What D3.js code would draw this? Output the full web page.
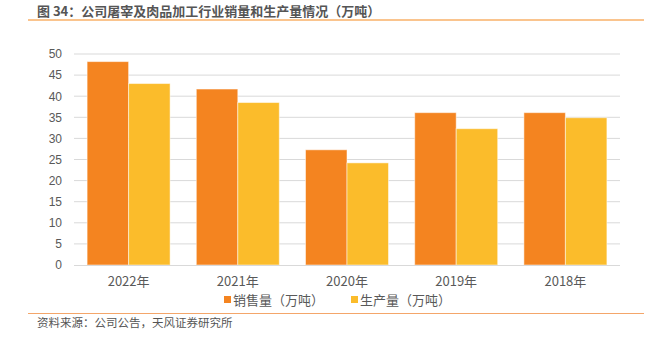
<!DOCTYPE html>
<html><head><meta charset="utf-8">
<script src="https://cdn.jsdelivr.net/npm/d3@7"></script>
<style>
body{margin:0;background:#fff;}
text{font-family:"Noto Sans CJK SC","Liberation Sans",Arial,sans-serif;}
</style></head>
<body><svg id="c" width="654" height="345"></svg>
<script>
const categories = ["2022年","2021年","2020年","2019年","2018年"];
const seriesNames = ["销售量（万吨）","生产量（万吨）"];
const sales = [48.2, 41.7, 27.3, 36.1, 36.1];
const production = [43.0, 38.5, 24.2, 32.3, 34.9];
const yTicks = [0,5,10,15,20,25,30,35,40,45,50];
const colors = ["#F48420","#FBBC2B"];

const svg = d3.select("#c");
const pL = 74, pR = 620, pT = 54, pB = 265;

// title
svg.append("text").attr("x",37).attr("y",16).attr("font-size",13).attr("font-weight","bold")
  .attr("fill","#555").text("图 34：公司屠宰及肉品加工行业销量和生产量情况（万吨）");
svg.append("line").attr("x1",28).attr("x2",644).attr("y1",20).attr("y2",20)
  .attr("stroke","#FAC48E").attr("stroke-width",2);

const x = d3.scaleBand().domain(categories).range([pL,pR]).paddingInner(0.24).paddingOuter(0.12);
const x1 = d3.scaleBand().domain([0,1]).range([0,x.bandwidth()]);
const y = d3.scaleLinear().domain([0,50]).range([pB,pT]);

// gridlines
svg.append("g").selectAll("line").data(yTicks.filter(d=>d>0)).join("line")
  .attr("x1",pL).attr("x2",pR).attr("y1",d=>y(d)).attr("y2",d=>y(d))
  .attr("stroke","#d9d9d9").attr("stroke-width",1);

// y axis
const ya = svg.append("g").attr("transform",`translate(${pL},0)`)
  .call(d3.axisLeft(y).tickValues(yTicks).tickSize(0).tickPadding(12));
ya.select(".domain").remove();
ya.selectAll("text").attr("font-size",12).attr("fill","#595959")
  .style("font-family","'Liberation Sans',Arial,sans-serif");

// bars
const data = categories.map((c,i)=>({c, v:[sales[i],production[i]]}));
const g = svg.append("g").selectAll("g").data(data).join("g")
  .attr("transform",d=>`translate(${x(d.c)},0)`);
g.selectAll("rect").data(d=>d.v.map((v,k)=>({v,k}))).join("rect")
  .attr("x",d=>x1(d.k)).attr("width",x1.bandwidth())
  .attr("y",d=>y(d.v)).attr("height",d=>y(0)-y(d.v))
  .attr("fill",d=>colors[d.k]).attr("stroke","#fff").attr("stroke-opacity",0.5).attr("stroke-width",1);

// x axis
svg.append("line").attr("x1",pL).attr("x2",pR).attr("y1",pB+0.5).attr("y2",pB+0.5)
  .attr("stroke","#d9d9d9").attr("stroke-width",1);
const xa = svg.append("g").attr("transform",`translate(0,${pB})`)
  .call(d3.axisBottom(x).tickSize(0).tickPadding(12));
xa.select(".domain").remove();
xa.selectAll("text").attr("font-size",13).attr("fill","#595959");

// legend
const legX = [224, 351];
seriesNames.forEach((n,k)=>{
  svg.append("rect").attr("x",legX[k]).attr("y",296).attr("width",7).attr("height",7).attr("fill",colors[k]);
  svg.append("text").attr("x",legX[k]+9).attr("y",305).attr("font-size",13).attr("fill","#595959").text(n);
});

// source
svg.append("line").attr("x1",28).attr("x2",644).attr("y1",313.5).attr("y2",313.5)
  .attr("stroke","#F4A66A").attr("stroke-width",1);
svg.append("text").attr("x",37).attr("y",327).attr("font-size",11.5).attr("fill","#555")
  .text("资料来源：公司公告，天风证券研究所");
</script></body></html>
